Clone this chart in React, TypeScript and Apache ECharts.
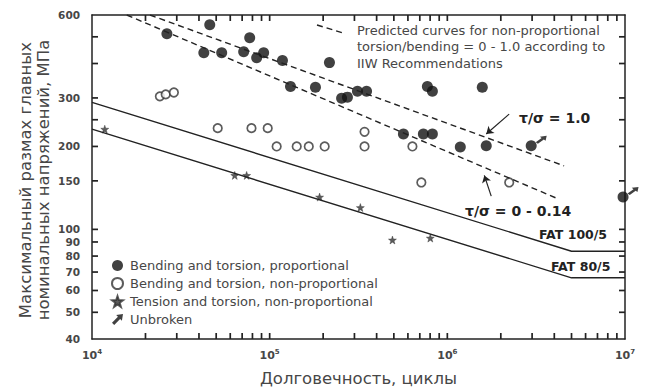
import React, { useEffect, useRef } from "react";
import * as echarts from "echarts";

// ---- data (cycles N, stress range MPa) ----
const bendTorsionProp: number[][] = [
  [26400, 513], [46000, 553], [77200, 496], [42600, 438], [53700, 438], [71400, 441],
  [84500, 420], [92500, 438], [118000, 410], [217000, 403], [131000, 330], [181000, 328],
  [254000, 299], [274000, 302], [312000, 317], [351000, 317], [772000, 330], [824000, 317],
  [1573000, 328], [566000, 222], [733000, 222], [824000, 222], [1183000, 199], [1656000, 201],
  [2965000, 201], [9750000, 131],
];
const bendTorsionNonProp: number[][] = [
  [24100, 304], [26000, 309], [28900, 314], [51000, 233], [79000, 233], [97500, 233],
  [109500, 200], [142000, 200], [166000, 200], [204000, 200], [342000, 226], [342000, 200],
  [636000, 200], [714000, 148], [2230000, 148],
];
const tensionTorsionNonProp: number[][] = [
  [11800, 231], [63600, 157], [74200, 157], [191000, 131], [324000, 120], [491000, 91.5], [802000, 93],
];
const unbroken: number[][] = [[2965000, 201], [9750000, 131]];

const fat100: number[][] = [[10000, 289], [5000000, 83.3], [10000000, 83.3]];
const fat80: number[][] = [[10000, 231], [5000000, 66.7], [10000000, 66.7]];
const predictedRatio1: number[][] = [[21200, 600], [4540000, 170]];
const predictedRatio0: number[][] = [[15700, 600], [4090000, 130]];

const arrowRatio1: number[][] = [[2228000, 262], [1656000, 222]];
const arrowRatio0: number[][] = [[1766000, 132], [1615000, 157]];

const X_MIN = 10000;
const X_MAX = 10000000;
const Y_MIN = 40;
const Y_MAX = 600;
const xTickValues = [
  20000, 30000, 40000, 50000, 60000, 70000, 80000, 90000,
  100000, 200000, 300000, 400000, 500000, 600000, 700000, 800000, 900000,
  1000000, 2000000, 3000000, 4000000, 5000000, 6000000, 7000000, 8000000, 9000000,
];
const xLabelValues = [10000, 100000, 1000000, 10000000];
const yTickValues = [50, 60, 70, 80, 90, 100, 150, 200, 250, 300, 400, 500];
const yLabelValues = [40, 50, 60, 70, 80, 90, 100, 150, 200, 300, 600];

const legendNames = [
  "Bending and torsion, proportional",
  "Bending and torsion, non-proportional",
  "Tension and torsion, non-proportional",
  "Unbroken",
];

const FONT = "'DejaVu Sans', 'Liberation Sans', Arial, sans-serif";
const INK = "#222";
const TEXT = "#474747";

const STAR = "path://M5,0 L6.2,3.6 L10,3.8 L7,6.1 L8.1,9.8 L5,7.6 L1.9,9.8 L3,6.1 L0,3.8 L3.8,3.6 Z";
const ARROW = "path://M0,8 L5.4,2.6 L3.8,1 L10,0 L9,6.2 L7.4,4.6 L2,10 Z";

export default function App() {
  const ref = useRef<HTMLDivElement>(null);
  useEffect(() => {
    if (!ref.current) return;
    const chart = echarts.init(ref.current, undefined, { renderer: "svg" });
    const axisLine = { show: true, lineStyle: { color: INK, width: 1.5 } };
    const TL = 6;
    const TW = 1.7;
    const tickSeries = (name: string, data: number[][], vertical: boolean, offset: number) => ({
      type: "scatter", name, data, silent: true, clip: false, z: 3,
      symbol: "rect", symbolSize: vertical ? [TW, TL] : [TL, TW],
      symbolOffset: vertical ? [0, offset] : [offset, 0],
      itemStyle: { color: INK, opacity: 1 },
    });
    const option: any = {
      animation: false,
      backgroundColor: "#fff",
      grid: { left: 92, right: 23, top: 15, bottom: 49, containLabel: false },
      xAxis: [
        {
          type: "log", logBase: 10, min: X_MIN, max: X_MAX, position: "bottom",
          axisLine, axisTick: { show: false }, minorTick: { show: false }, splitLine: { show: false },
          axisLabel: {
            customValues: xLabelValues, margin: 9,
            formatter: (v: number) => `{b|10}{s|${Math.round(Math.log10(v))}}`,
            rich: {
              b: { fontSize: 11, color: TEXT, fontFamily: FONT, fontWeight: "bold" },
              s: { fontSize: 7, color: TEXT, fontFamily: FONT, padding: [0, 0, 7, 0], fontWeight: "bold" },
            },
          },
          name: "Долговечность, циклы", nameLocation: "middle", nameGap: 31,
          nameTextStyle: { fontSize: 16.5, color: TEXT, fontFamily: FONT },
        },
        {
          type: "log", logBase: 10, min: X_MIN, max: X_MAX, position: "top",
          axisLine, axisTick: { show: false }, axisLabel: { show: false }, splitLine: { show: false },
        },
      ],
      yAxis: [
        {
          type: "log", logBase: 10, min: Y_MIN, max: Y_MAX, position: "left",
          axisLine, axisTick: { show: false }, splitLine: { show: false },
          axisLabel: { customValues: yLabelValues, fontSize: 10.5, fontWeight: "bold", color: TEXT, fontFamily: FONT, margin: 12 },
        },
        {
          type: "log", logBase: 10, min: Y_MIN, max: Y_MAX, position: "right",
          axisLine, axisTick: { show: false }, axisLabel: { show: false }, splitLine: { show: false },
        },
      ],
      legend: {
        orient: "vertical", left: 111, top: 259, padding: 0, itemGap: 5, itemWidth: 11, itemHeight: 11,
        data: legendNames, selectedMode: false,
        textStyle: { fontSize: 13, color: TEXT, fontFamily: FONT, padding: [0, 0, 0, 2] },
      },
      series: [
        tickSeries("xTicksBottom", xTickValues.map((v) => [v, Y_MIN]), true, -TL / 2),
        tickSeries("xTicksTop", xTickValues.map((v) => [v, Y_MAX]), true, TL / 2),
        tickSeries("yTicksLeft", yTickValues.map((v) => [X_MIN, v]), false, TL / 2),
        tickSeries("yTicksRight", yTickValues.map((v) => [X_MAX, v]), false, -TL / 2),
        {
          type: "line", name: "FAT 100/5", data: fat100, symbol: "none",
          lineStyle: { color: INK, width: 1.4 }, silent: true,
          markLine: {
            silent: true, symbol: ["none", "arrow"], symbolSize: 7,
            lineStyle: { color: INK, width: 1.2, type: "solid" }, label: { show: false },
            data: [
              [{ coord: arrowRatio1[0] }, { coord: arrowRatio1[1] }],
              [{ coord: arrowRatio0[0] }, { coord: arrowRatio0[1] }],
            ],
          },
        },
        { type: "line", name: "FAT 80/5", data: fat80, symbol: "none", lineStyle: { color: INK, width: 1.4 }, silent: true },
        { type: "line", name: "pred1", data: predictedRatio1, symbol: "none", lineStyle: { color: INK, width: 1.4, type: [6, 4] }, silent: true },
        { type: "line", name: "pred0", data: predictedRatio0, symbol: "none", lineStyle: { color: INK, width: 1.4, type: [6, 4] }, silent: true },
        {
          type: "scatter", name: legendNames[1], data: bendTorsionNonProp, symbol: "circle", symbolSize: 8.5,
          itemStyle: { color: "#fff", borderColor: "#333", borderWidth: 1.7 }, clip: false,
        },
        {
          type: "scatter", name: legendNames[2], data: tensionTorsionNonProp, symbol: STAR, symbolSize: 8,
          itemStyle: { color: "#333", borderColor: "#333", borderWidth: 0.5 }, clip: false,
        },
        {
          type: "scatter", name: legendNames[0], data: bendTorsionProp, symbol: "circle", symbolSize: 11,
          itemStyle: { color: "#111" }, clip: false,
        },
        {
          type: "scatter", name: legendNames[3], data: unbroken, symbol: ARROW, symbolSize: [11, 8],
          symbolOffset: [10, -6], itemStyle: { color: "#111" }, clip: false,
        },
      ],
      graphic: [
        {
          type: "text", x: 34, y: 180, rotation: Math.PI / 2,
          style: {
            text: "Максимальный размах главных\nноминальных напряжений, МПа",
            fill: TEXT, font: `16.5px ${FONT}`, align: "center", verticalAlign: "middle", lineHeight: 18,
          },
        },
        {
          type: "text", x: 357, y: 22,
          style: {
            text: "Predicted curves for non-proportional\ntorsion/bending = 0 - 1.0 according to\nIIW Recommendations",
            fill: TEXT, font: `13px ${FONT}`, lineHeight: 16.5, verticalAlign: "top",
          },
        },
        {
          type: "line", shape: { x1: 317, y1: 25, x2: 343, y2: 33 },
          style: { stroke: INK, lineWidth: 1.4, lineDash: [6, 4] },
        },
        { type: "text", x: 519, y: 118, style: { text: "τ/σ = 1.0", fill: INK, font: `bold 14px ${FONT}`, verticalAlign: "middle" } },
        { type: "text", x: 465, y: 211, style: { text: "τ/σ = 0 - 0.14", fill: INK, font: `bold 14px ${FONT}`, verticalAlign: "middle" } },
        { type: "text", x: 539, y: 234, style: { text: "FAT 100/5", fill: INK, font: `bold 12.5px ${FONT}`, verticalAlign: "middle" } },
        { type: "text", x: 551, y: 266, style: { text: "FAT 80/5", fill: INK, font: `bold 12.5px ${FONT}`, verticalAlign: "middle" } },
      ],
    };
    chart.setOption(option);
    return () => chart.dispose();
  }, []);
  return <div ref={ref} style={{ position: "fixed", left: 0, top: 0, width: 648, height: 392 }} />;
}
